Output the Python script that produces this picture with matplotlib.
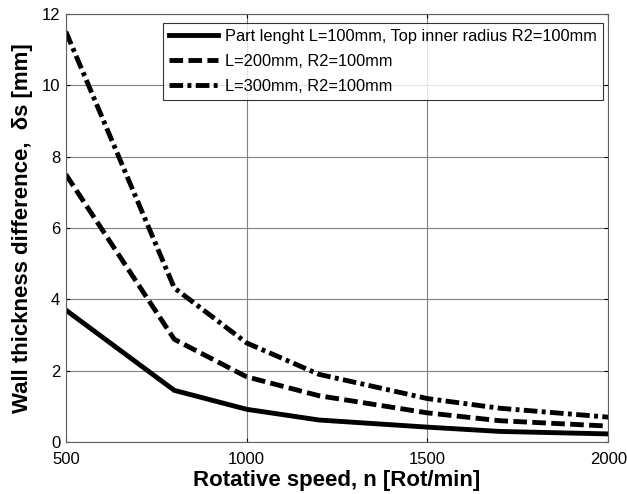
import matplotlib
matplotlib.use("Agg")
import matplotlib.pyplot as plt

plt.rcParams['font.family'] = ['Liberation Sans', 'DejaVu Sans']

speed = [500, 800, 1000, 1200, 1500, 1700, 2000]
s_L100 = [3.7, 1.45, 0.92, 0.62, 0.42, 0.30, 0.23]
s_L200 = [7.5, 2.88, 1.83, 1.30, 0.82, 0.60, 0.45]
s_L300 = [11.5, 4.32, 2.78, 1.90, 1.22, 0.95, 0.70]
labels = ["Part lenght L=100mm, Top inner radius R2=100mm",
          "L=200mm, R2=100mm",
          "L=300mm, R2=100mm"]

fig = plt.figure(figsize=(6.27, 4.94), dpi=100)
ax = fig.add_axes([0.105, 0.105, 0.865, 0.867])
ax.plot(speed, s_L100, color='black', lw=3.5, ls='-', label=labels[0])
ax.plot(speed, s_L200, color='black', lw=3.5, ls=(0, (2.8, 1.1)), label=labels[1])
ax.plot(speed, s_L300, color='black', lw=3.5, ls=(0, (2.8, 0.9, 0.8, 0.9)), label=labels[2])

ax.set_xlim(500, 2000)
ax.set_ylim(0, 12)
ax.set_xticks([500, 1000, 1500, 2000])
ax.set_yticks([0, 2, 4, 6, 8, 10, 12])
ax.grid(True, color='#808080', lw=0.8)
ax.tick_params(direction='in', length=3, labelsize=12, top=True, right=True)
ax.tick_params(axis='x', pad=7)
ax.tick_params(axis='y', pad=4)
for sp in ax.spines.values():
    sp.set_color('#606060')
    sp.set_linewidth(0.8)
ax.set_xlabel("Rotative speed, n [Rot/min]", fontsize=16, fontweight='bold', labelpad=2)
ax.set_ylabel("Wall thickness difference,  δs [mm]", fontsize=16, fontweight='bold', labelpad=6)
leg = ax.legend(loc='upper right', fontsize=11.8, frameon=True, fancybox=False,
                edgecolor='black', handlelength=3.0, borderpad=0.36, labelspacing=0.62,
                handletextpad=0.4, borderaxespad=0.0, bbox_to_anchor=(0.99, 0.979))
leg.get_frame().set_linewidth(0.8)
fig.savefig("out.png", dpi=100)
